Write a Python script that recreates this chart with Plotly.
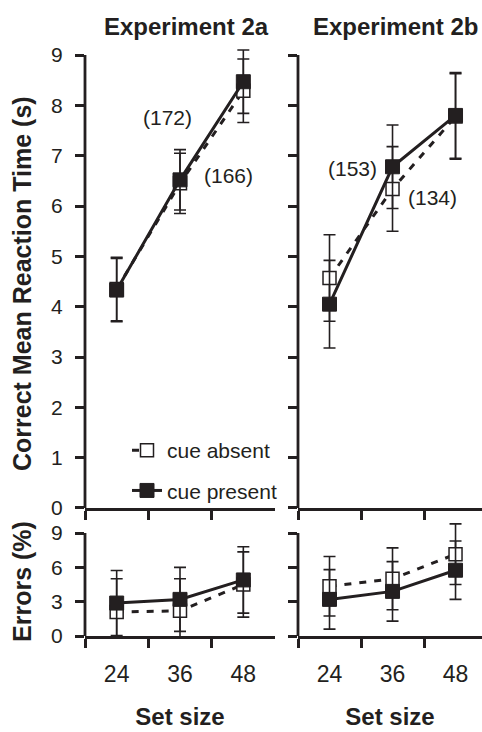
import plotly.graph_objects as go

# ---------------- data ----------------
set_sizes = ["24", "36", "48"]

# Experiment 2a - correct mean reaction time (s)
rt_2a_absent = [4.35, 6.45, 8.29]
rt_2a_absent_err = [0.63, 0.60, 0.63]
rt_2a_present = [4.33, 6.52, 8.47]
rt_2a_present_err = [0.63, 0.60, 0.63]
# Experiment 2a - errors (%)
er_2a_absent = [2.1, 2.2, 4.5]
er_2a_absent_err = [2.9, 2.8, 2.85]
er_2a_present = [2.88, 3.2, 4.9]
er_2a_present_err = [2.85, 2.8, 2.9]

# Experiment 2b - correct mean reaction time (s)
rt_2b_absent = [4.57, 6.34, 7.78]
rt_2b_absent_err = [0.86, 0.84, 0.85]
rt_2b_present = [4.05, 6.78, 7.80]
rt_2b_present_err = [0.87, 0.83, 0.85]
# Experiment 2b - errors (%)
er_2b_absent = [4.35, 5.0, 7.15]
er_2b_absent_err = [2.6, 2.7, 2.65]
er_2b_present = [3.2, 3.9, 5.75]
er_2b_present_err = [2.6, 2.6, 2.55]

slope_labels_2a = ["(172)", "(166)"]
slope_labels_2b = ["(153)", "(134)"]

panel_titles = ["Experiment 2a", "Experiment 2b"]
series_names = ["cue absent", "cue present"]
rt_ticks = [0, 1, 2, 3, 4, 5, 6, 7, 8, 9]
er_ticks = [0, 3, 6, 9]

# ---------------- style ----------------
W, H = 482, 732
INK = "#231f20"
FONT = "Liberation Sans, Arial, Helvetica, sans-serif"


def px(x):
    return x / W


def py(y):
    return (H - y) / H


fig = go.Figure()


def add_pair(xa, ya, absent, absent_err, present, present_err, show_legend):
    fig.add_trace(go.Scatter(
        x=set_sizes, y=absent, name=series_names[0], legendgroup="absent",
        showlegend=show_legend, mode="lines+markers", xaxis=xa, yaxis=ya,
        line=dict(color=INK, width=3, dash="7px,8px"),
        marker=dict(symbol="square", size=13, color="white",
                    line=dict(color=INK, width=1.5)),
        error_y=dict(type="data", array=absent_err, visible=True, color=INK,
                     thickness=1.6, width=6),
        cliponaxis=False,
    ))
    fig.add_trace(go.Scatter(
        x=set_sizes, y=present, name=series_names[1], legendgroup="present",
        showlegend=show_legend, mode="lines+markers", xaxis=xa, yaxis=ya,
        line=dict(color=INK, width=3),
        marker=dict(symbol="square", size=14, color=INK,
                    line=dict(color=INK, width=1)),
        error_y=dict(type="data", array=present_err, visible=True, color=INK,
                     thickness=1.6, width=6),
        cliponaxis=False,
    ))


add_pair("x", "y", rt_2a_absent, rt_2a_absent_err, rt_2a_present, rt_2a_present_err, True)
add_pair("x2", "y2", rt_2b_absent, rt_2b_absent_err, rt_2b_present, rt_2b_present_err, False)
add_pair("x3", "y3", er_2a_absent, er_2a_absent_err, er_2a_present, er_2a_present_err, False)
add_pair("x4", "y4", er_2b_absent, er_2b_absent_err, er_2b_present, er_2b_present_err, False)

# pixel geometry of the panels (value 0 row and px per unit)
RT_TOP, ER_TOP = 9.25, 10.0
rt_y0, rt_unit = 508, 50.33
er_y0, er_unit = 636, 11.44

left_dom = [px(85), px(275)]
right_dom = [px(298), 1.0]
top_dom = [py(rt_y0), py(rt_y0 - RT_TOP * rt_unit)]
bot_dom = [py(er_y0), py(er_y0 - ER_TOP * er_unit)]

common = dict(ticks="outside", ticklen=9, tickwidth=2.5, tickcolor=INK,
              showgrid=False, zeroline=False, automargin=False)

xcommon = dict(common, type="category", tickson="boundaries", showline=True,
               linewidth=2.5, linecolor=INK, ticklabelstandoff=16,
               tickfont=dict(family=FONT, size=23, color=INK))
ycommon = dict(common, showline=False,
               tickfont=dict(family=FONT, size=21, color=INK),
               ticklabelstandoff=8)

set_title = dict(text="<b>Set size</b>", font=dict(family=FONT, size=24, color=INK),
                 standoff=22)

fig.update_layout(
    width=W, height=H,
    margin=dict(l=0, r=0, t=0, b=0),
    paper_bgcolor="white", plot_bgcolor="white",
    font=dict(family=FONT, color=INK),
    xaxis=dict(xcommon, domain=left_dom, anchor="y", range=[-0.5, 2.5], showticklabels=False),
    xaxis2=dict(xcommon, domain=right_dom, anchor="y2", range=[-0.5, 2.42], showticklabels=False),
    xaxis3=dict(xcommon, domain=left_dom, anchor="y3", range=[-0.5, 2.5], title=set_title),
    xaxis4=dict(xcommon, domain=right_dom, anchor="y4", range=[-0.5, 2.42], title=set_title),
    yaxis=dict(ycommon, domain=top_dom, anchor="x", range=[0, RT_TOP], tickvals=rt_ticks),
    yaxis2=dict(ycommon, domain=top_dom, anchor="x2", range=[0, RT_TOP], tickvals=rt_ticks,
                showticklabels=False),
    yaxis3=dict(ycommon, domain=bot_dom, anchor="x3", range=[0, ER_TOP], tickvals=er_ticks),
    yaxis4=dict(ycommon, domain=bot_dom, anchor="x4", range=[0, ER_TOP], tickvals=er_ticks,
                showticklabels=False),
    legend=dict(x=px(127), y=py(430), xanchor="left", yanchor="top",
                bgcolor="rgba(0,0,0,0)", font=dict(family=FONT, size=21, color=INK),
                traceorder="grouped", tracegroupgap=10, itemwidth=30),
)

# vertical axis lines ending at the top tick (0..9)
shapes = []
for xr, yr, top in [("x", "y", rt_ticks[-1]), ("x2", "y2", rt_ticks[-1]),
                    ("x3", "y3", er_ticks[-1]), ("x4", "y4", er_ticks[-1])]:
    shapes.append(dict(type="line", xref=f"{xr} domain", yref=yr, x0=0, x1=0,
                       y0=0, y1=top, line=dict(color=INK, width=2.8), layer="above"))
fig.update_layout(shapes=shapes)

ann = []
for txt, cx in zip(panel_titles, [186, 395]):
    ann.append(dict(text=f"<b>{txt}</b>", x=px(cx), y=py(26), xref="paper", yref="paper",
                    xanchor="center", yanchor="middle",
                    showarrow=False, font=dict(family=FONT, size=24, color=INK)))
ann.append(dict(text="<b>Correct Mean Reaction Time (s)</b>", x=px(22), y=py(284),
                xref="paper", yref="paper", showarrow=False, textangle=-90,
                xanchor="center", yanchor="middle",
                font=dict(family=FONT, size=25, color=INK)))
ann.append(dict(text="<b>Errors (%)</b>", x=px(22), y=py(582),
                xref="paper", yref="paper", showarrow=False, textangle=-90,
                xanchor="center", yanchor="middle",
                font=dict(family=FONT, size=25, color=INK)))
for txt, (cx, cy) in zip(slope_labels_2a + slope_labels_2b,
                         [(167, 118), (228, 175), (352, 168), (432, 197)]):
    ann.append(dict(text=txt, x=px(cx), y=py(cy), xref="paper", yref="paper",
                    xanchor="center", yanchor="middle",
                    showarrow=False, font=dict(family=FONT, size=21, color=INK)))
fig.update_layout(annotations=ann)

fig.write_html("out.html")
